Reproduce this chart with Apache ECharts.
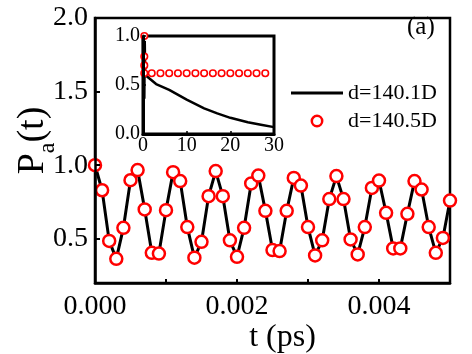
<!DOCTYPE html>
<html>
<head>
<meta charset="utf-8">
<script src="https://cdn.jsdelivr.net/npm/echarts@6/dist/echarts.min.js"></script>
<style>
  html, body { margin: 0; padding: 0; background: #fff; }
  #chart { width: 472px; height: 354px; }
</style>
</head>
<body>
<div id="chart"></div>
<script>
  // main panel: t in ps, P_a(t)
  const tMain = [
    0, 0.0001, 0.0002, 0.0003, 0.0004, 0.0005, 0.0006, 0.0007, 0.0008, 0.0009,
    0.0010, 0.0011, 0.0012, 0.0013, 0.0014, 0.0015, 0.0016, 0.0017, 0.0018, 0.0019,
    0.0020, 0.0021, 0.0022, 0.0023, 0.0024, 0.0025, 0.0026, 0.0027, 0.0028, 0.0029,
    0.0030, 0.0031, 0.0032, 0.0033, 0.0034, 0.0035, 0.0036, 0.0037, 0.0038, 0.0039,
    0.0040, 0.0041, 0.0042, 0.0043, 0.0044, 0.0045, 0.0046, 0.0047, 0.0048, 0.0049,
    0.0050
  ]
  const pA_140_1 = [
    1.0, 0.83, 0.486, 0.364, 0.575, 0.898, 0.967, 0.70, 0.405, 0.40,
    0.695, 0.953, 0.892, 0.58, 0.372, 0.48, 0.79, 0.96, 0.79, 0.49,
    0.378, 0.575, 0.876, 0.93, 0.69, 0.424, 0.417, 0.69, 0.914, 0.862,
    0.58, 0.387, 0.49, 0.77, 0.926, 0.77, 0.496, 0.394, 0.58, 0.846,
    0.896, 0.677, 0.435, 0.435, 0.67, 0.892, 0.835, 0.58, 0.405, 0.506,
    0.76
  ]
  const pA_140_5 = [
    1.0, 0.83, 0.486, 0.364, 0.575, 0.898, 0.967, 0.70, 0.405, 0.40,
    0.695, 0.953, 0.892, 0.58, 0.372, 0.48, 0.79, 0.96, 0.79, 0.49,
    0.378, 0.575, 0.876, 0.93, 0.69, 0.424, 0.417, 0.69, 0.914, 0.862,
    0.58, 0.387, 0.49, 0.77, 0.926, 0.77, 0.496, 0.394, 0.58, 0.846,
    0.896, 0.677, 0.435, 0.435, 0.67, 0.892, 0.835, 0.58, 0.405, 0.506,
    0.76
  ]
  const mainXLabels = [0, 0.002, 0.004]
  const mainXTicks = [0.001, 0.002, 0.003, 0.004]
  const mainYLabels = [0.5, 1.0, 1.5, 2.0]

  // inset: long time scale
  const insetLineT = [0, 0.1, 0.2, 0.3, 0.4, 0.5, 1, 3, 6, 10, 14, 17, 20, 24, 27, 30]
  const insetLineP = [1.0, 0.34, 0.98, 0.36, 0.95, 0.6, 0.585, 0.51, 0.45, 0.35, 0.262, 0.21, 0.165, 0.12, 0.095, 0.07]
  const insetDotT = [0.3, 0.3, 0.3, 0.3, 2, 4, 6, 8, 10, 12, 14, 16, 18, 20, 22, 24, 26, 28]
  const insetDotP = [1.0, 0.79, 0.70, 0.62, 0.62, 0.62, 0.62, 0.62, 0.62, 0.62, 0.62, 0.62, 0.62, 0.62, 0.62, 0.62, 0.62, 0.62]

  const serif = "'Liberation Serif', 'Times New Roman', serif"
  const frame = { show: true, onZero: false, lineStyle: { color: '#000', width: 2.5 } }
  const insetFrame = { show: true, onZero: false, lineStyle: { color: '#000', width: 3 } }

  const chart = echarts.init(document.getElementById('chart'))
  chart.setOption({
    animation: false,
    backgroundColor: '#fff',
    title: {
      text: '(a)',
      left: 407,
      top: 15,
      padding: 0,
      textStyle: { fontSize: 25, fontWeight: 'normal', fontFamily: serif, color: '#000' }
    },
    legend: [
      {
        data: [{ name: 'd=140.1D', icon: 'rect', itemStyle: { color: '#000', borderWidth: 0 } }],
        left: 291,
        top: 82,
        padding: 0,
        itemWidth: 52,
        itemHeight: 3,
        textStyle: { fontSize: 22, fontFamily: serif, color: '#000' }
      },
      {
        data: ['d=140.5D'],
        left: 291,
        top: 110,
        padding: 0,
        itemWidth: 52,
        itemHeight: 13,
        itemStyle: { color: '#fff', borderColor: '#ff0000', borderWidth: 2.5 },
        lineStyle: { width: 0, opacity: 0 },
        textStyle: { fontSize: 22, fontFamily: serif, color: '#000' }
      }
    ],
    grid: [
      {
        left: 95, top: 18, width: 355, height: 265,
        containLabel: false, outerBoundsMode: 'none',
        show: true, borderColor: '#000', borderWidth: 2.5, backgroundColor: 'transparent'
      },
      {
        left: 143, top: 36, width: 131, height: 98,
        containLabel: false, outerBoundsMode: 'none',
        show: true, backgroundColor: '#fff', borderColor: '#000', borderWidth: 3, z: 1
      }
    ],
    xAxis: [
      {
        gridIndex: 0, type: 'value', min: 0, max: 0.005, position: 'bottom', z: 10,
        axisLine: frame,
        axisTick: { inside: true, length: 4, customValues: mainXTicks, lineStyle: { color: '#000', width: 2 } },
        axisLabel: {
          customValues: mainXLabels, formatter: v => v.toFixed(3),
          fontSize: 28, fontFamily: serif, color: '#000', margin: 10
        },
        splitLine: { show: false },
        name: 't (ps)', nameLocation: 'middle', nameGap: 39, nameMoveOverlap: false,
        nameTextStyle: { fontSize: 32, fontFamily: serif, color: '#000', padding: [0, 0, 0, 20] }
      },
      {
        gridIndex: 1, type: 'value', min: 0, max: 30, interval: 10, position: 'bottom', z: 10,
        axisLine: insetFrame,
        axisTick: { inside: true, length: 3, lineStyle: { color: '#000', width: 1.5 } },
        axisLabel: { fontSize: 20, fontFamily: serif, color: '#000', margin: 2 },
        splitLine: { show: false }
      }
    ],
    yAxis: [
      {
        gridIndex: 0, type: 'value', min: 0.2, max: 2.0, position: 'left', z: 10,
        axisLine: frame,
        axisTick: { inside: true, length: 5, customValues: mainYLabels, lineStyle: { color: '#000', width: 2 } },
        axisLabel: {
          customValues: mainYLabels, formatter: v => v.toFixed(1),
          fontSize: 28, fontFamily: serif, color: '#000', margin: 7
        },
        splitLine: { show: false },
        name: '{p|P}{s|a}{p|(t)}', nameLocation: 'middle', nameRotate: 90, nameGap: 35, nameMoveOverlap: false,
        nameTextStyle: {
          padding: [0, 0, 0, 20],
          rich: {
            p: { fontSize: 38, lineHeight: 38, padding: [0, 0, 16, 0], fontFamily: serif, color: '#000' },
            s: { fontSize: 24, lineHeight: 24, padding: [22, 0, 8, 0], fontFamily: serif, color: '#000' }
          }
        }
      },
      {
        gridIndex: 1, type: 'value', min: 0, max: 1, interval: 0.5, position: 'left', z: 10,
        axisLine: insetFrame,
        axisTick: { inside: true, length: 3, lineStyle: { color: '#000', width: 1.5 } },
        axisLabel: { formatter: v => v.toFixed(1), fontSize: 20, fontFamily: serif, color: '#000', margin: 3 },
        splitLine: { show: false }
      }
    ],
    series: [
      {
        name: 'd=140.1D',
        type: 'line',
        xAxisIndex: 0, yAxisIndex: 0,
        data: tMain.map((t, i) => [t, pA_140_1[i]]),
        symbol: 'none',
        lineStyle: { color: '#000', width: 3 },
        z: 2
      },
      {
        name: 'd=140.5D',
        type: 'line',
        xAxisIndex: 0, yAxisIndex: 0,
        data: tMain.map((t, i) => [t, pA_140_5[i]]),
        symbol: 'circle',
        symbolSize: 12,
        lineStyle: { width: 0, opacity: 0 },
        itemStyle: { color: '#fff', borderColor: '#ff0000', borderWidth: 2.5 },
        z: 3
      },
      {
        name: 'inset 140.1D',
        type: 'line',
        xAxisIndex: 1, yAxisIndex: 1,
        data: insetLineT.map((t, i) => [t, insetLineP[i]]),
        symbol: 'none',
        lineStyle: { color: '#000', width: 2.5 },
        z: 4
      },
      {
        name: 'inset 140.5D',
        type: 'scatter',
        xAxisIndex: 1, yAxisIndex: 1,
        data: insetDotT.map((t, i) => [t, insetDotP[i]]),
        symbol: 'circle',
        symbolSize: 6.5,
        itemStyle: { color: '#fff', borderColor: '#ff0000', borderWidth: 1.6, opacity: 1 },
        z: 5
      }
    ]
  })
</script>
</body>
</html>
